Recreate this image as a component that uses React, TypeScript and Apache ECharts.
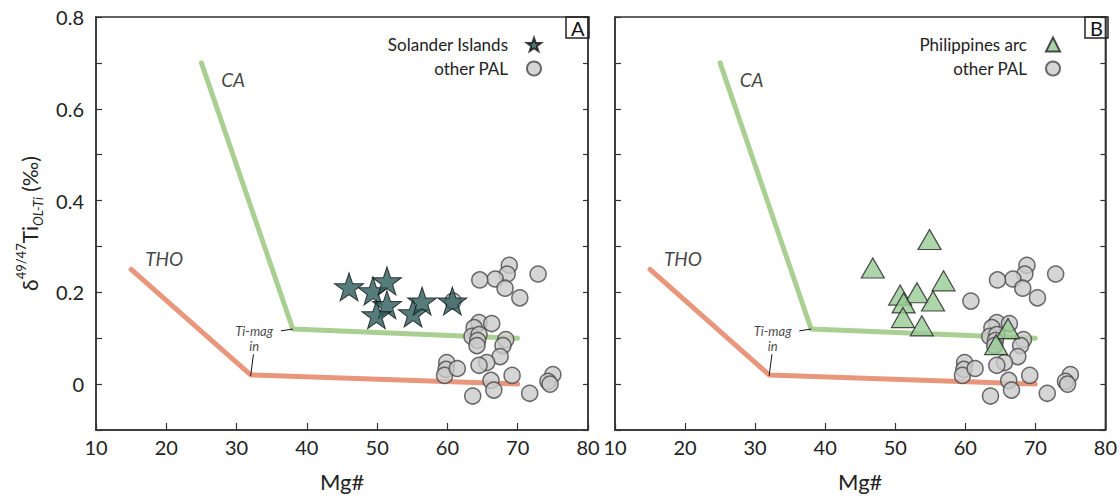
import React, { useEffect, useRef } from "react";
import * as echarts from "echarts";

const FONT = 'Lato, "Open Sans", sans-serif';

// Model curves (Mg#, δ49/47Ti)
const caCurve: number[][] = [[25, 0.70], [38, 0.12], [70, 0.10]];
const thoCurve: number[][] = [[15, 0.25], [32, 0.02], [70, 0.0]];

// Solander Islands (panel A)
const solanderMg = [46.0, 49.4, 51.4, 51.4, 49.9, 55.1, 56.4, 60.7];
const solanderTi = [0.212, 0.203, 0.225, 0.173, 0.151, 0.155, 0.181, 0.181];

// Philippines arc (panel B)
const philippinesMg = [54.9, 46.8, 56.9, 50.7, 53.1, 55.4, 51.2, 51.1, 53.8, 66.1, 64.4];
const philippinesTi = [0.315, 0.253, 0.225, 0.194, 0.199, 0.181, 0.177, 0.145, 0.127, 0.121, 0.086];

// other PAL (both panels)
const palMg = [68.8, 68.5, 66.8, 64.6, 68.2, 72.9, 70.3, 60.8, 64.5, 66.3, 63.8, 63.5, 64.5, 64.3, 64.2, 68.3, 67.9, 67.5, 65.6, 64.5, 59.9, 59.8, 59.6, 61.4, 66.2, 69.2, 66.6, 63.6, 71.7, 75.0, 74.3, 74.6];
const palTi = [0.259, 0.240, 0.229, 0.227, 0.209, 0.240, 0.188, 0.181, 0.134, 0.132, 0.123, 0.104, 0.108, 0.095, 0.084, 0.097, 0.084, 0.060, 0.047, 0.041, 0.047, 0.032, 0.019, 0.034, 0.008, 0.019, -0.013, -0.026, -0.020, 0.021, 0.006, 0.000];

// Annotations
const curveLabels: [number, number, string][] = [[29.5, 0.664, "CA"], [19.7, 0.274, "THO"]];
const timagLabels: [number, number, string][] = [[32.5, 0.100, "Ti-mag\nin"]];
const leaderCA: number[][] = [[36.3, 0.116], [38.0, 0.12]];
const leaderTHO: number[][] = [[32.4, 0.065], [32.0, 0.018]];

const panelLetters = ["A", "B"];

const STAR = "path://M50,0 L61.8,35.1 L98.1,35.1 L68.7,56.7 L79.4,90.5 L50,70 L20.6,90.5 L31.3,56.7 L1.9,35.1 L38.2,35.1 Z";

const zip = (a: number[], b: number[]) => a.map((v, i) => [v, b[i]]);

function panelSeries(i: number) {
  const ax = { xAxisIndex: i, yAxisIndex: i * 2 };
  const s: any[] = [
    {
      type: "line", ...ax, data: caCurve, symbol: "none", silent: true, z: 1,
      lineStyle: { color: "#aacf92", width: 5, cap: "round", join: "round" },
    },
    {
      type: "line", ...ax, data: thoCurve, symbol: "none", silent: true, z: 1,
      lineStyle: { color: "#e9977c", width: 5, cap: "round", join: "round" },
    },
    {
      type: "line", ...ax, data: leaderCA, symbol: "none", silent: true, z: 2,
      lineStyle: { color: "#111", width: 1 },
    },
    {
      type: "line", ...ax, data: leaderTHO, symbol: "none", silent: true, z: 2,
      lineStyle: { color: "#111", width: 1 },
    },
    {
      type: "scatter", ...ax, data: curveLabels, symbolSize: 1, silent: true, z: 2,
      itemStyle: { color: "transparent" },
      label: { show: true, position: "inside", formatter: (p: any) => p.data[2], fontFamily: FONT, fontStyle: "italic", fontSize: 19, color: "#111" },
    },
    {
      type: "scatter", ...ax, data: timagLabels, symbolSize: 1, silent: true, z: 2,
      itemStyle: { color: "transparent" },
      label: { show: true, position: "inside", align: "center", formatter: (p: any) => p.data[2], fontFamily: FONT, fontStyle: "italic", fontSize: 13, lineHeight: 15, color: "#111" },
    },
    {
      name: "other PAL", type: "scatter", ...ax, data: zip(palMg, palTi), symbol: "circle", symbolSize: 16, z: 3,
      itemStyle: { color: "#cbcbcb", borderColor: "#474747", borderWidth: 1.5 },
    },
  ];
  if (i === 0) {
    s.push({
      name: "Solander Islands", type: "scatter", ...ax, data: zip(solanderMg, solanderTi), symbol: STAR, symbolSize: [29, 28], z: 4,
      itemStyle: { color: "#2c5d5b", borderColor: "#111", borderWidth: 1 },
    });
  } else {
    s.push({
      name: "Philippines arc", type: "scatter", ...ax, data: zip(philippinesMg, philippinesTi), symbol: "triangle", symbolSize: [23, 20], z: 4,
      itemStyle: { color: "#97cb93", borderColor: "#222", borderWidth: 1.2 },
    });
  }
  return s;
}

const yLabel = (v: number) => {
  const r = Math.round(v * 10);
  if (r % 2 !== 0) return "";
  return r === 0 ? "0" : (r / 10).toFixed(1);
};

function xAxisCfg(i: number) {
  return {
    gridIndex: i, type: "value", min: 10, max: 80, interval: 10,
    name: "Mg#", nameLocation: "middle", nameGap: 40,
    nameTextStyle: { fontFamily: FONT, fontSize: 22, color: "#222" },
    axisLine: { show: true, onZero: false, lineStyle: { color: "#333", width: 1.5 } },
    axisTick: { show: true, inside: true, length: 7, lineStyle: { color: "#333", width: 1.2 } },
    axisLabel: { fontFamily: FONT, fontSize: 20, color: "#222", margin: 7 },
    splitLine: { show: false },
  };
}

function yAxisCfg(i: number, side: "left" | "right") {
  const left = side === "left";
  const cfg: any = {
    gridIndex: i, type: "value", position: side, min: -0.1, max: 0.8, interval: 0.1,
    axisLine: { show: true, onZero: false, lineStyle: { color: "#333", width: 1.5 } },
    axisTick: { show: true, inside: true, length: left ? 6 : 5, lineStyle: { color: "#333", width: 1.2 } },
    axisLabel: { show: left && i === 0, formatter: yLabel, fontFamily: FONT, fontSize: 20, color: "#222", margin: 12 },
    splitLine: { show: false },
  };
  if (left && i === 0) {
    cfg.name = "{d|δ}{sup|49/47}{d|Ti}{sub|OL-Ti}{d| (‰)}";
    cfg.nameLocation = "middle";
    cfg.nameRotate = 90;
    cfg.nameGap = 52;
    cfg.nameTextStyle = {
      fontFamily: FONT, color: "#222", lineHeight: 30,
      rich: {
        d: { fontFamily: FONT, fontSize: 21, color: "#222", lineHeight: 30 },
        sup: { fontFamily: FONT, fontSize: 13, color: "#222", verticalAlign: "top", lineHeight: 16 },
        sub: { fontFamily: FONT, fontSize: 13, color: "#222", fontStyle: "italic", verticalAlign: "bottom", lineHeight: 16 },
      },
    };
  }
  return cfg;
}

function legendCfg(names: string[], right: number) {
  return {
    data: names, orient: "vertical", align: "right", right, top: 31,
    itemWidth: 14, itemHeight: 14, itemGap: 7, selectedMode: false,
    textStyle: { fontFamily: FONT, fontSize: 17, color: "#222", padding: [0, 14, 0, 0] },
  };
}

function titleCfg(text: string, left: number) {
  return {
    text, left, top: 17, padding: [1, 5, 0, 5],
    borderWidth: 1.5, borderColor: "#222",
    textStyle: { fontFamily: FONT, fontSize: 20, fontWeight: "normal", color: "#111" },
  };
}

export default function App() {
  const ref = useRef<HTMLDivElement>(null);
  useEffect(() => {
    if (!ref.current) return;
    const chart = echarts.init(ref.current, undefined, { renderer: "svg" });
    chart.setOption({
      animation: false,
      backgroundColor: "#ffffff",
      title: [titleCfg(panelLetters[0], 566), titleCfg(panelLetters[1], 1085)],
      grid: [
        { left: 96, top: 17, width: 492, height: 416, show: true, borderColor: "#333", borderWidth: 1.5, backgroundColor: "transparent" },
        { left: 615, top: 17, width: 491, height: 416, show: true, borderColor: "#333", borderWidth: 1.5, backgroundColor: "transparent" },
      ],
      legend: [
        legendCfg(["Solander Islands", "other PAL"], 573),
        legendCfg(["Philippines arc", "other PAL"], 54),
      ],
      xAxis: [xAxisCfg(0), xAxisCfg(1)],
      yAxis: [yAxisCfg(0, "left"), yAxisCfg(0, "right"), yAxisCfg(1, "left"), yAxisCfg(1, "right")],
      series: [...panelSeries(0), ...panelSeries(1)],
    });
    return () => chart.dispose();
  }, []);
  return (
    <div
      ref={ref}
      style={{ position: "fixed", left: 0, top: 0, width: 1120, height: 497, background: "#fff" }}
    />
  );
}
